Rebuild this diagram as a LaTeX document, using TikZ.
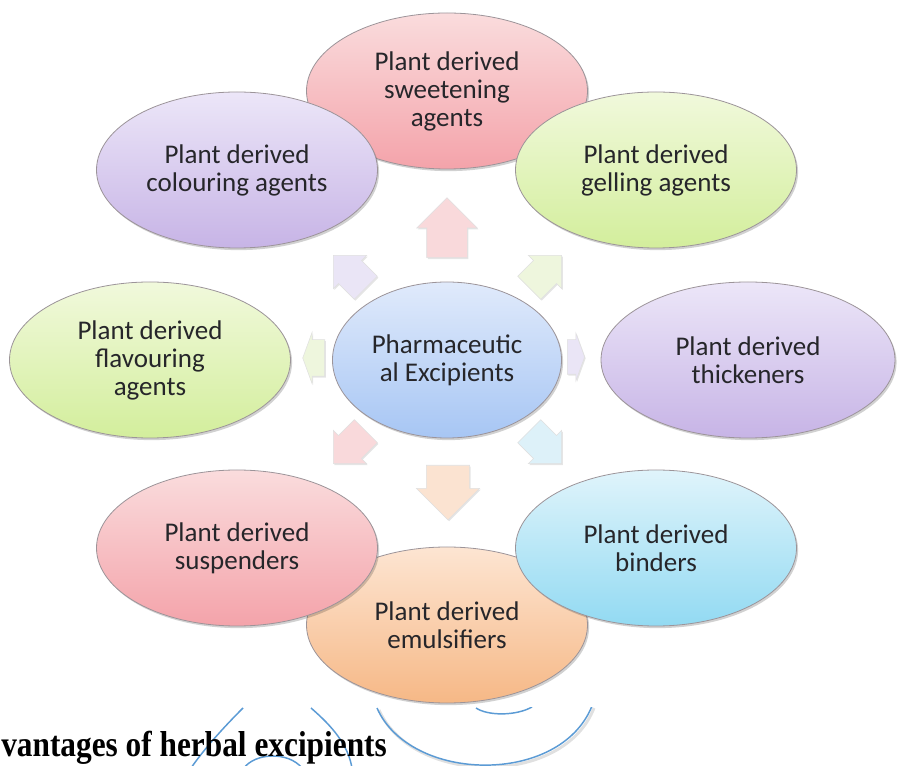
\documentclass[tikz,border=0pt]{standalone}
\usepackage{fontspec}
\setmainfont{Carlito}
\newfontfamily\headingfont{Liberation Serif}
\usetikzlibrary{shapes.geometric,shapes.arrows,shadows}

% bubble fills: lighter at the top, deeper at the bottom
\definecolor{pinkTop}{HTML}{FADCDD}
\definecolor{pinkBot}{HTML}{F4A3AA}
\definecolor{lilacTop}{HTML}{ECE6F8}
\definecolor{lilacBot}{HTML}{C7B4E6}
\definecolor{greenTop}{HTML}{F1F9DC}
\definecolor{greenBot}{HTML}{D3EE9C}
\definecolor{blueTop}{HTML}{E0EAFB}
\definecolor{blueBot}{HTML}{A7C6F4}
\definecolor{cyanTop}{HTML}{E0F4FB}
\definecolor{cyanBot}{HTML}{92DAF2}
\definecolor{peachTop}{HTML}{FDE5D2}
\definecolor{peachBot}{HTML}{F6B886}
\definecolor{rimGray}{HTML}{9C9499}
\definecolor{labelInk}{HTML}{26262A}
\definecolor{lineBlue}{HTML}{5B9BD5}
% pale block-arrow fills
\definecolor{arPink}{HTML}{F9D9DB}
\definecolor{arGreen}{HTML}{EEF6DD}
\definecolor{arLilac}{HTML}{EAE5F6}
\definecolor{arCyan}{HTML}{DDF1F9}
\definecolor{arPeach}{HTML}{FBE3D1}

\begin{document}
\begin{tikzpicture}[x=0.75pt,y=-0.75pt,
  bubble/.style 2 args={ellipse, draw=rimGray, line width=0.6pt, inner sep=0pt,
    top color=#1, bottom color=#2, align=center, text=labelInk,
    font=\fontsize{20.25}{21}\selectfont,
    minimum width=210.75pt, minimum height=117pt,
    drop shadow={shadow xshift=1.2pt, shadow yshift=-1.6pt, opacity=0.18, fill=black}},
  blockarrow/.style={single arrow, inner xsep=0pt, draw=black!12, line width=0.4pt,
    fill=#1, single arrow tip angle=90,
    drop shadow={shadow xshift=0.8pt, shadow yshift=-1pt, opacity=0.10, fill=black}},
  blueline/.style={draw=lineBlue, line width=1.1pt},
  heading/.style={font=\headingfont\bfseries\fontsize{23.5}{26}\selectfont,
    inner sep=0pt, anchor=base west}]

\useasboundingbox (0,0) rectangle (897,766);
\fill[white] (0,0) rectangle (897,766);

% outer bubbles that sit behind their neighbours
\node[bubble={pinkTop}{pinkBot}] (sweet) at (447,91) {Plant derived\\sweetening\\agents};
\node[bubble={peachTop}{peachBot}] (emul) at (447,625) {Plant derived\\emulsifiers};

% block arrows diverging from the centre (inner ysep = half the shaft width)
\node[blockarrow=arPink, rotate=90, anchor=tail, minimum height=45pt,
  inner ysep=15pt, single arrow head extend=7.5pt] (arUp) at (447,258) {};
\node[blockarrow=arPeach, rotate=-90, anchor=tail, minimum height=41pt,
  inner ysep=16pt, single arrow head extend=7.5pt] (arDown) at (448,465) {};
\node[blockarrow=arLilac, rotate=135, anchor=tail, minimum height=34.5pt,
  inner ysep=12pt, single arrow head extend=5.5pt] (arUL) at (366,288) {};
\node[blockarrow=arGreen, rotate=45, anchor=tail, minimum height=34.5pt,
  inner ysep=12pt, single arrow head extend=5.5pt] (arUR) at (529,288) {};
\node[blockarrow=arPink, rotate=225, anchor=tail, minimum height=34.5pt,
  inner ysep=12pt, single arrow head extend=5.5pt] (arLL) at (366,431) {};
\node[blockarrow=arCyan, rotate=-45, anchor=tail, minimum height=34.5pt,
  inner ysep=12pt, single arrow head extend=5.5pt] (arLR) at (529,431) {};
\node[blockarrow=arGreen, rotate=180, anchor=tail, minimum height=16.5pt,
  inner ysep=13.5pt, single arrow head extend=5.5pt,
  single arrow tip angle=140] (arLeft) at (325,358) {};
\node[blockarrow=arLilac, rotate=0, anchor=tail, minimum height=13pt,
  inner ysep=12.75pt, single arrow head extend=5pt,
  single arrow tip angle=140] (arRight) at (567,357) {};

% remaining bubbles
\node[bubble={lilacTop}{lilacBot}] (colour) at (237,170) {Plant derived\\colouring agents};
\node[bubble={greenTop}{greenBot}] (gell) at (656,170) {Plant derived\\gelling agents};
\node[bubble={greenTop}{greenBot}] (flav) at (150,360) {Plant derived\\flavouring\\agents};
\node[bubble={blueTop}{blueBot}, minimum width=171.75pt] (core) at (447,360) {Pharmaceutic\\al Excipients};
\node[bubble={lilacTop}{lilacBot}, minimum width=220.5pt] (thick) at (748,360) {Plant derived\\thickeners};
\node[bubble={pinkTop}{pinkBot}] (susp) at (237,548) {Plant derived\\suspenders};
\node[bubble={cyanTop}{cyanBot}] (bind) at (656,548) {Plant derived\\binders};

% strip of the page underneath: outline fragments and a heading
\fill[white] (0,707) rectangle (897,766);
\begin{scope}
\clip (0,707) rectangle (897,766);
\draw[draw=black, opacity=0.12, line width=2.2pt] (379,710) .. controls (412,785) and (563,788) .. (594,708);
\draw[blueline] (377,708) .. controls (410,783) and (560,786) .. (592,706);
\draw[blueline] (476,708) .. controls (488,716) and (516,716) .. (532,707);
\draw[blueline] (243,708) .. controls (223,728) and (205,748) .. (191,768);
\draw[blueline] (311,708) .. controls (333,727) and (348,745) .. (352,768);
\draw[blueline] (244,768) .. controls (255,753) and (288,751) .. (302,768);
\end{scope}
\node[heading] (head) at (1,756) {\scalebox{1}[1.15]{vantages of herbal excipients}};

\end{tikzpicture}
\end{document}
